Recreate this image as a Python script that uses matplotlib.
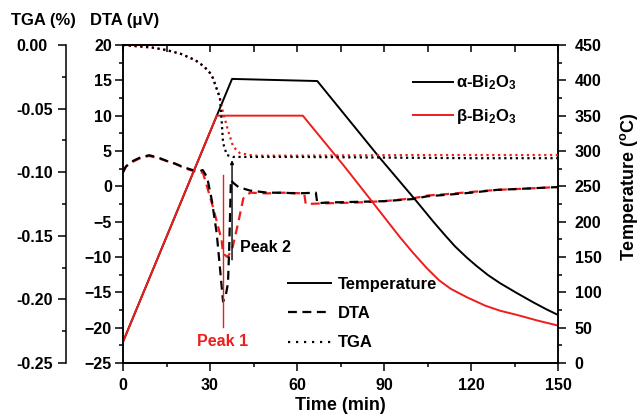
"""TGA / DTA / temperature profile of alpha- and beta-Bi2O3."""

import matplotlib

matplotlib.use("Agg")
import matplotlib.pyplot as plt
from matplotlib.lines import Line2D


RED = "#ee1c1c"

# temperature programme (min, degC)
temp_alpha_t = [0, 37.6, 67, 88.6, 101.4, 107, 111, 114.5, 118.6, 122, 126, 130, 135.8, 141.4, 146, 150]
temp_alpha = [30, 402, 399, 290, 228, 200, 181, 165, 149, 137, 124, 113, 99, 86, 76, 68]
temp_beta_t = [0, 32.3, 62, 76, 87.5, 95.5, 100, 104.8, 109, 113, 118.6, 125, 130, 135.9, 143, 150]
temp_beta = [30, 350, 350, 280, 220, 178, 156, 134, 117, 105, 93, 81, 74, 68, 60, 53]

# DTA signal (uV)
dta_alpha_t = [0, 1, 3, 6, 9, 12, 15, 18, 21, 24, 26, 27.5, 29, 30.6, 32.3, 33.4, 34.5,
               35.4, 36.2, 36.6, 36.9, 37.2, 38, 39.8, 43.8, 50, 55, 60, 66.5, 67,
               70, 80, 90, 100, 105, 111.6, 120, 129, 140, 150]
dta_alpha = [2.0, 2.8, 3.5, 4.1, 4.4, 4.1, 3.6, 3.2, 2.7, 2.3, 2.1, 2.3, 1.3, -1.9, -6.6, -11.4, -16.3,
             -15.5, -13.7, -9.0, -4.3, 0.9, 0.5, -0.1, -0.6, -0.9, -0.9, -1.0, -0.9, -2.4,
             -2.3, -2.2, -2.1, -1.8, -1.4, -1.2, -0.9, -0.5, -0.3, -0.1]
dta_beta_t = [0, 1, 3, 6, 9, 12, 15, 18, 21, 24, 26.5, 27.6, 29.3, 31, 32.8, 34, 34.5,
              36, 37.6, 39.7, 41.5, 43.8, 50, 55, 62.5, 63, 70, 80, 90, 100, 105, 111.6,
              120, 129, 140, 150]
dta_beta = [2.0, 2.8, 3.4, 4.0, 4.3, 4.0, 3.6, 3.2, 2.6, 2.2, 2.0, 1.9, -0.5, -2.9, -5.7, -7.6, -9.5,
            -10.0, -9.0, -5.2, -1.7, -0.9, -1.0, -0.9, -1.0, -2.5, -2.4, -2.3, -2.1, -1.7, -1.3, -1.1,
            -0.8, -0.5, -0.3, -0.1]

# TGA mass change (%)
tga_alpha_t = [0, 5, 10, 15, 20, 25, 28, 30, 31, 32.4, 33.4, 34, 34.5, 35.8, 38, 60, 90, 120, 150]
tga_alpha = [0, -0.001, -0.002, -0.004, -0.007, -0.012, -0.017, -0.022, -0.026, -0.035, -0.041,
             -0.059, -0.077, -0.0865, -0.088, -0.088, -0.0885, -0.089, -0.089]
tga_beta_t = [0, 5, 10, 15, 20, 25, 28, 30, 31, 32.4, 33.4, 34.5, 36.2, 38, 40.3, 45, 60, 100, 150]
tga_beta = [0, -0.001, -0.002, -0.004, -0.007, -0.012, -0.017, -0.022, -0.026, -0.035, -0.042,
            -0.053, -0.067, -0.080, -0.085, -0.087, -0.087, -0.0865, -0.0865]

# peak markers (min, DTA range)
peak1_t, peak1_range = 34.5, (1.6, -19.9)
peak2_t, peak2_range = 37.6, (-10.4, 3.7)

x_ticks = [0, 30, 60, 90, 120, 150]
dta_ticks = [20, 15, 10, 5, 0, -5, -10, -15, -20, -25]
temp_ticks = list(range(0, 451, 50))
tga_ticks = [0.00, -0.05, -0.10, -0.15, -0.20, -0.25]


def _style_axis(axis, which, length=6, minor=3):
    axis.tick_params(axis=which, which="major", length=length, width=1.1, labelsize=11.5)
    axis.tick_params(axis=which, which="minor", length=minor, width=1.1)


def main() -> None:
    plt.rcParams["font.family"] = ["Liberation Sans", "DejaVu Sans"]
    plt.rcParams["font.weight"] = "bold"
    plt.rcParams["axes.labelweight"] = "bold"
    plt.rcParams["mathtext.default"] = "regular"

    W, H = 641, 415
    fig = plt.figure(figsize=(W / 100, H / 100), dpi=100)
    left, right, top, bottom = 123, 558, 45, 363
    ax = fig.add_axes([left / W, 1 - bottom / H, (right - left) / W, (bottom - top) / H])
    ax_t = ax.twinx()
    ax_g = ax.twinx()

    # temperature
    line_a, = ax_t.plot(temp_alpha_t, temp_alpha, color="black", lw=1.4)
    line_b, = ax_t.plot(temp_beta_t, temp_beta, color=RED, lw=1.4)

    # DTA
    ax.plot(dta_beta_t, dta_beta, color=RED, lw=1.6, dashes=(4, 2.5))
    ax.plot(dta_alpha_t, dta_alpha, color="black", lw=1.6, dashes=(4, 2.5))
    ax.plot([peak1_t, peak1_t], peak1_range, color=RED, lw=1.0)
    ax.annotate("", xy=(peak2_t, peak2_range[1]), xytext=(peak2_t, peak2_range[0]),
                arrowprops=dict(arrowstyle="-|>", color="black", lw=1.0, mutation_scale=5,
                                shrinkA=0, shrinkB=0))
    ax.text(peak1_t, -21.9, "Peak 1", color=RED, fontsize=11.5, ha="center", va="center")
    ax.text(40.3, -8.7, "Peak 2", color="black", fontsize=11.5, ha="left", va="center")

    # TGA
    ax_g.plot(tga_beta_t, tga_beta, color=RED, lw=1.6, dashes=(1, 1.6))
    ax_g.plot(tga_alpha_t, tga_alpha, color="black", lw=1.6, dashes=(1, 1.6))

    ax.set_xlim(0, 150)
    ax.set_ylim(-25, 20)
    ax_t.set_ylim(0, 450)
    ax_g.set_ylim(-0.25, 0)

    ax.set_xticks(x_ticks)
    ax.set_xticks(range(15, 150, 30), minor=True)
    ax.set_yticks(dta_ticks)
    ax.set_yticks([v + 2.5 for v in dta_ticks[1:]], minor=True)
    ax_t.set_yticks(temp_ticks)
    ax_t.set_yticks(range(25, 450, 50), minor=True)
    ax_g.set_yticks(tga_ticks)
    ax_g.set_yticklabels([f"{v:.2f}" for v in tga_ticks])
    ax_g.set_yticks([v - 0.025 for v in tga_ticks[:-1]], minor=True)

    for a in (ax, ax_t, ax_g):
        for sp in a.spines.values():
            sp.set_linewidth(1.1)

    _style_axis(ax, "x")
    ax.tick_params(axis="x", which="both", direction="out", pad=5)
    _style_axis(ax, "y")
    ax.tick_params(axis="y", which="both", direction="out", pad=2)
    top_ax = ax.secondary_xaxis("top")
    top_ax.set_xticks(x_ticks)
    top_ax.set_xticks(range(15, 150, 30), minor=True)
    top_ax.tick_params(axis="x", which="both", direction="in", labeltop=False, length=5, width=1.1)
    top_ax.spines["top"].set_linewidth(1.1)

    _style_axis(ax_t, "y")
    ax_t.tick_params(axis="y", which="both", direction="out", pad=6)

    ax_g.spines["right"].set_visible(False)
    ax_g.spines["left"].set_visible(True)
    ax_g.spines["left"].set_position(("axes", (66 - left) / (right - left)))
    ax_g.spines["left"].set_bounds(-0.25, 0)
    ax_g.yaxis.set_ticks_position("left")
    ax_g.yaxis.set_label_position("left")
    _style_axis(ax_g, "y")
    ax_g.tick_params(axis="y", which="both", direction="out", pad=30)
    for lab in ax_g.get_yticklabels():
        lab.set_horizontalalignment("left")

    ax.set_xlabel("Time (min)", fontsize=13, fontweight="bold", labelpad=2.5)
    fig.text(43 / W, 1 - 20 / H, "TGA (%)", fontsize=12, ha="center", va="center")
    fig.text(125 / W, 1 - 20 / H, "DTA (\u03bcV)", fontsize=12, ha="center", va="center")
    fig.text(629 / W, 1 - 187 / H, "Temperature ($^o$C)", fontsize=13, rotation=90,
             ha="center", va="center")

    leg1 = ax_g.legend([line_a, line_b], ["\u03b1-Bi$_2$O$_3$", "\u03b2-Bi$_2$O$_3$"],
                       loc="upper left", bbox_to_anchor=((413 - left) / (right - left), 0.91),
                       frameon=False, fontsize=12, handlelength=2.4, handletextpad=0.2,
                       labelspacing=0.9, borderpad=0, borderaxespad=0)
    ax_g.add_artist(leg1)
    handles = [Line2D([], [], color="black", lw=1.4),
               Line2D([], [], color="black", lw=1.6, dashes=(4, 2.5)),
               Line2D([], [], color="black", lw=1.6, dashes=(1, 2.6))]
    ax_g.legend(handles, ["Temperature", "DTA", "TGA"], loc="upper left",
                bbox_to_anchor=((288 - left) / (right - left), 0.27), frameon=False,
                fontsize=12, handlelength=2.6, handletextpad=0.4, labelspacing=0.85,
                borderpad=0, borderaxespad=0)

    fig.savefig("out.png", dpi=100)
    plt.close(fig)


if __name__ == "__main__":
    main()
